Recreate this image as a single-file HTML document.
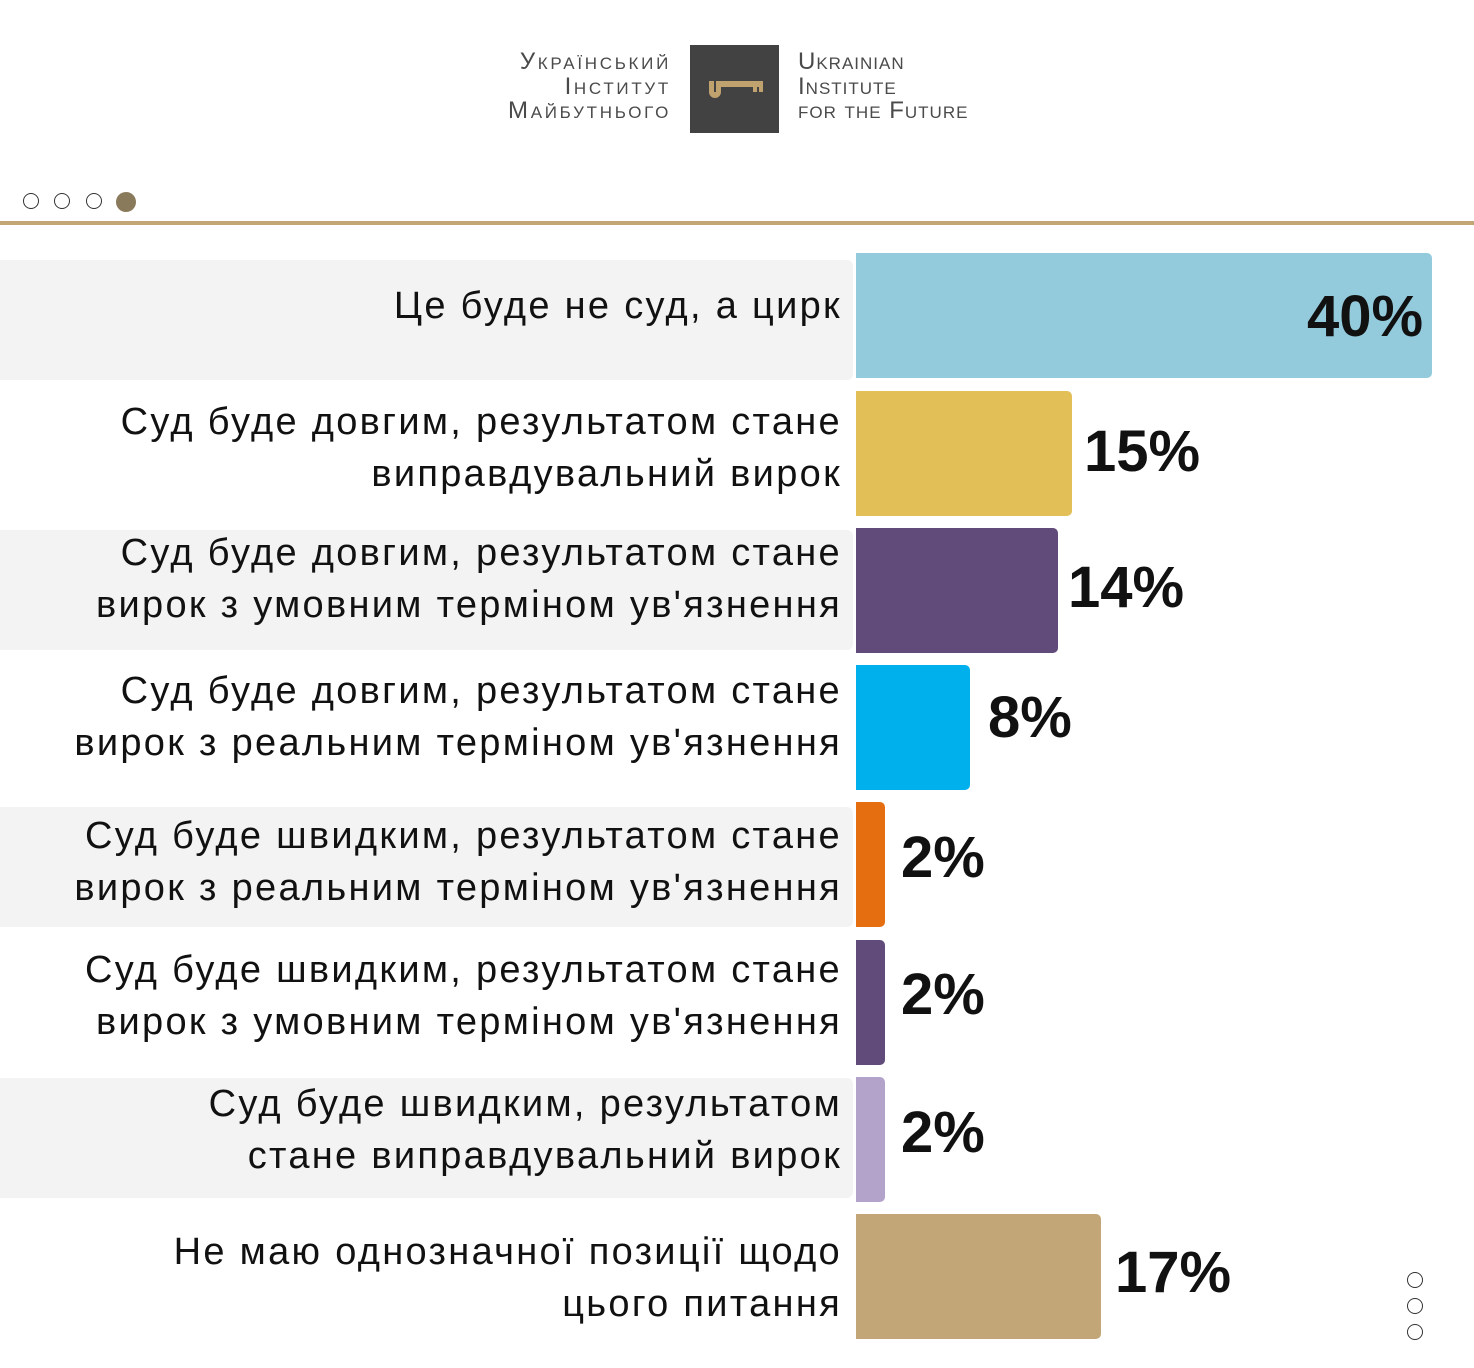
<!DOCTYPE html>
<html><head><meta charset="utf-8"><style>
body{margin:0;width:1474px;height:1368px;background:#fff;position:relative;overflow:hidden;font-family:"Liberation Sans",sans-serif}
.a{position:absolute}
.lg{font-variant:small-caps;color:#4a4a4a;font-size:24px;line-height:24.5px;letter-spacing:1px}
.band{position:absolute;left:0;width:853px;height:120px;background:#f3f3f3;border-radius:0 6px 6px 0}
.lab{position:absolute;right:632px;width:840px;text-align:right;font-size:38px;line-height:52px;color:#111;letter-spacing:2.3px}
.bar{position:absolute;left:856px;height:125px;border-radius:0 5px 5px 0}
.pct{position:absolute;font-size:58px;font-weight:bold;color:#111;line-height:60px}
.dot{position:absolute;width:16px;height:16px;border-radius:50%;border:1.3px solid #333;box-sizing:border-box}
</style></head><body>
<div class="a lg" style="right:803px;top:50px;text-align:right;letter-spacing:2.7px">Український<br>Інститут<br>Майбутнього</div>
<div class="a" style="left:690px;top:45px;width:89px;height:88px;background:#424242"></div>
<svg class="a" style="left:706px;top:78px" width="60" height="22"><path d="M3 3v11a6 6 0 0 0 12 0V9h42V3H15v0H10v11H8V3z" fill="#c0a26e"/><rect x="47" y="9" width="4" height="5" fill="#c0a26e"/><rect x="53" y="9" width="4" height="5" fill="#c0a26e"/></svg>
<div class="a lg" style="left:798px;top:50px">Ukrainian<br>Institute<br>for the Future</div>
<div class="dot" style="left:23px;top:193px"></div>
<div class="dot" style="left:54px;top:193px"></div>
<div class="dot" style="left:86px;top:193px"></div>
<div class="a" style="left:116px;top:192px;width:20px;height:20px;border-radius:50%;background:#8a7a5c"></div>
<div class="a" style="left:0;top:221px;width:1474px;height:4px;background:#c2a674"></div>

<div class="band" style="top:260px"></div>
<div class="band" style="top:530px"></div>
<div class="band" style="top:807px"></div>
<div class="band" style="top:1078px"></div>

<div class="lab" style="top:280px">Це буде не суд, а цирк</div>
<div class="lab" style="top:396px">Суд буде довгим, результатом стане<br>виправдувальний вирок</div>
<div class="lab" style="top:527px">Суд буде довгим, результатом стане<br>вирок з умовним терміном ув'язнення</div>
<div class="lab" style="top:665px">Суд буде довгим, результатом стане<br>вирок з реальним терміном ув'язнення</div>
<div class="lab" style="top:810px">Суд буде швидким, результатом стане<br>вирок з реальним терміном ув'язнення</div>
<div class="lab" style="top:944px">Суд буде швидким, результатом стане<br>вирок з умовним терміном ув'язнення</div>
<div class="lab" style="top:1078px">Суд буде швидким, результатом<br>стане виправдувальний вирок</div>
<div class="lab" style="top:1226px">Не маю однозначної позиції щодо<br>цього питання</div>

<div class="bar" style="top:253px;width:576px;background:#93cbdd"></div>
<div class="bar" style="top:391px;width:216px;background:#e2c057"></div>
<div class="bar" style="top:528px;width:202px;background:#604b7a"></div>
<div class="bar" style="top:665px;width:114px;background:#00b0ec"></div>
<div class="bar" style="top:802px;width:29px;background:#e46e10"></div>
<div class="bar" style="top:940px;width:29px;background:#604b7a"></div>
<div class="bar" style="top:1077px;width:29px;background:#b3a3cb"></div>
<div class="bar" style="top:1214px;width:245px;background:#c2a677"></div>

<div class="pct" style="left:1307px;top:287px">40%</div>
<div class="pct" style="left:1084px;top:422px">15%</div>
<div class="pct" style="left:1068px;top:558px">14%</div>
<div class="pct" style="left:988px;top:688px">8%</div>
<div class="pct" style="left:901px;top:828px">2%</div>
<div class="pct" style="left:901px;top:965px">2%</div>
<div class="pct" style="left:901px;top:1103px">2%</div>
<div class="pct" style="left:1115px;top:1243px">17%</div>

<div class="dot" style="left:1407px;top:1272px"></div>
<div class="dot" style="left:1407px;top:1298px"></div>
<div class="dot" style="left:1407px;top:1324px"></div>
</body></html>
